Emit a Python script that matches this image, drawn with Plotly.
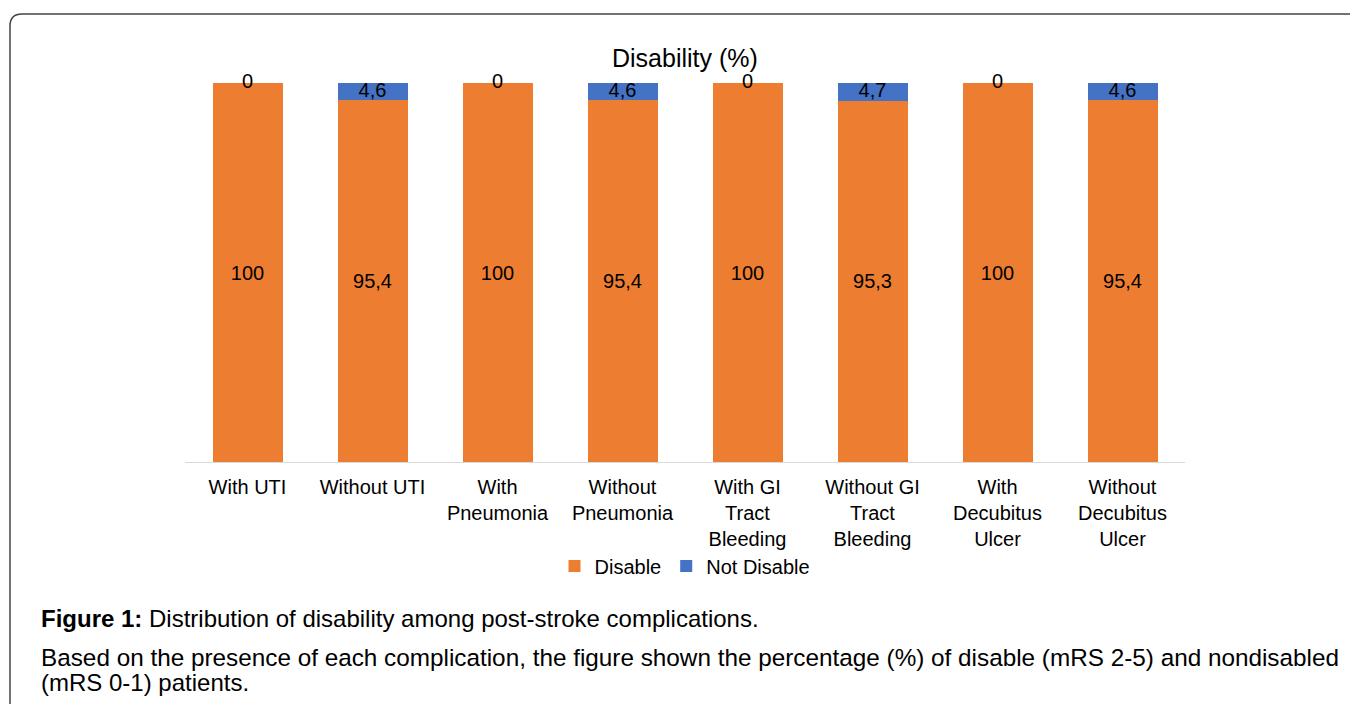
import plotly.graph_objects as go

categories = ["With UTI", "Without UTI", "With<br>Pneumonia", "Without<br>Pneumonia",
              "With GI<br>Tract<br>Bleeding", "Without GI<br>Tract<br>Bleeding",
              "With<br>Decubitus<br>Ulcer", "Without<br>Decubitus<br>Ulcer"]
disable = [100, 95.4, 100, 95.4, 100, 95.3, 100, 95.4]
not_disable = [0, 4.6, 0, 4.6, 0, 4.7, 0, 4.6]

ORANGE = "#ED7D31"
BLUE = "#4472C4"
FONT = "Liberation Sans, Arial, sans-serif"

def fmt(v):
    return ("%g" % v).replace(".", ",")

fig = go.Figure()
fig.add_trace(go.Bar(
    name="Disable", x=categories, y=disable, marker_color=ORANGE,
    text=[fmt(v) for v in disable], textposition="inside", insidetextanchor="middle",
    textfont=dict(size=20, color="#000000", family=FONT), marker_line_width=0,
))
fig.add_trace(go.Bar(
    name="Not Disable", x=categories, y=not_disable, marker_color=BLUE,
    textposition="none", marker_line_width=0,
))
fig.add_trace(go.Scatter(
    x=categories, y=[d + n / 2 for d, n in zip(disable, not_disable)],
    text=[fmt(v) for v in not_disable], mode="text", showlegend=False,
    textposition="middle center", textfont=dict(size=20, color="#000000", family=FONT),
    hoverinfo="skip", cliponaxis=False,
))

# Target pixel geometry (screen coordinates); page body has an 8px offset.
OFF = 8
L, R, T, B = 185, 1185, 83, 462
W, H = 1358, 704
pw, ph = R - L, B - T

def px(x):
    return (x - L) / pw

def py(y):
    return (B - y) / ph

rx, ry = 12 / pw, 12 / ph
x0, y0 = px(10), py(14)
x1, ybot = px(1400), py(760)
path = f"M {x0},{ybot} L {x0},{y0 - ry} Q {x0},{y0} {x0 + rx},{y0} L {x1},{y0}"

fig.update_layout(
    width=W, height=H,
    margin=dict(l=L - OFF, r=W - (R - OFF), t=T - OFF, b=H - (B - OFF)),
    barmode="stack", bargap=0.44,
    plot_bgcolor="white", paper_bgcolor="white",
    font=dict(family=FONT, size=20, color="#000000"),
    showlegend=True,
    legend=dict(orientation="h", x=0.5, xanchor="center", y=py(566), yanchor="middle",
                font=dict(size=20, family=FONT), traceorder="normal", itemwidth=30,
                bgcolor="rgba(0,0,0,0)"),
    xaxis=dict(showline=True, linecolor="#D9D9D9", linewidth=1, ticks="", showgrid=False,
               tickfont=dict(size=20, family=FONT, color="#000000"), fixedrange=True,
               ticklabelstandoff=7),
    yaxis=dict(range=[0, 100], visible=False, showgrid=False, fixedrange=True),
    shapes=[dict(type="path", path=path, xref="paper", yref="paper",
                 line=dict(color="#444444", width=1.5), layer="above")],
    annotations=[
        dict(text="Disability (%)", x=0.5, y=py(58), xref="paper", yref="paper",
             xanchor="center", yanchor="middle", showarrow=False,
             font=dict(size=25, family=FONT, color="#000000")),
        dict(text="<b>Figure 1:</b> Distribution of disability among post-stroke complications.",
             x=px(39), y=py(618), xref="paper", yref="paper", xanchor="left", yanchor="middle",
             showarrow=False, font=dict(size=24, family=FONT, color="#000000")),
        dict(text="Based on the presence of each complication, the figure shown the percentage (%) of disable (mRS 2-5) and nondisabled",
             x=px(39), y=py(657), xref="paper", yref="paper", xanchor="left", yanchor="middle",
             showarrow=False, font=dict(size=24.3, family=FONT, color="#000000")),
        dict(text="(mRS 0-1) patients.",
             x=px(39), y=py(682), xref="paper", yref="paper", xanchor="left", yanchor="middle",
             showarrow=False, font=dict(size=24, family=FONT, color="#000000")),
    ],
)

fig.write_html("out.html")
